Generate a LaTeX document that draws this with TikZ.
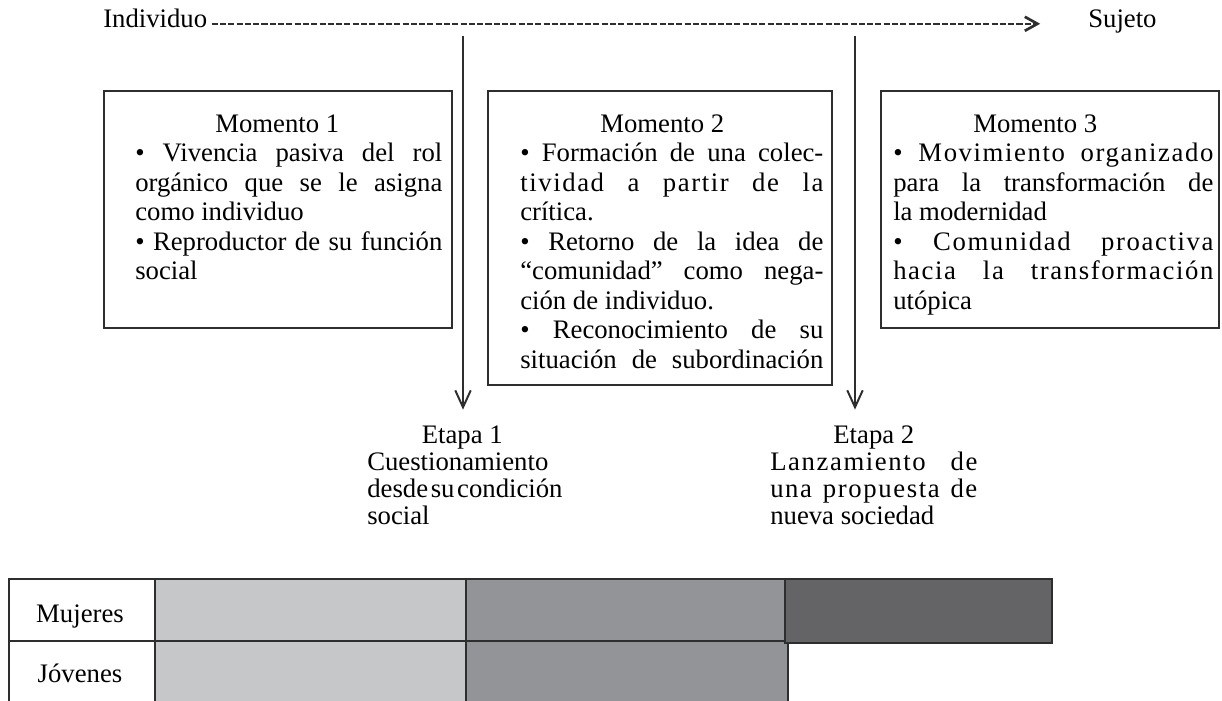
\documentclass[tikz,border=0pt]{standalone}
\usepackage{fontspec}
\setmainfont{Liberation Serif}
\usepackage{xcolor}
\usepackage{tikz}
\usetikzlibrary{arrows.meta,positioning}

\definecolor{grisclaro}{HTML}{C6C7C9}
\definecolor{grismedio}{HTML}{939497}
\definecolor{grisoscuro}{HTML}{646466}
\definecolor{trazo}{HTML}{2E2E2E}

\newcommand{\momtit}[1]{\hspace*{2cm}#1\par}
\newcommand{\linea}[1]{\makebox[\linewidth][s]{\spaceskip=0.25em plus 1em minus 0.15em\relax #1}\par}
\newcommand{\esp}[1]{{\addfontfeature{LetterSpace=6}#1}}
\newcommand{\cajatexto}[2]{\begin{minipage}[t]{#1}\fontsize{19}{21}\selectfont #2\end{minipage}}
\newcommand{\etapatexto}[2]{\begin{minipage}[t]{#1}\fontsize{19}{19.3}\selectfont #2\end{minipage}}

\tikzset{
  caja/.style={draw=trazo, line width=1.7pt},
  texto/.style={anchor=base west, inner sep=0pt},
  etiqueta/.style={anchor=base, inner sep=0pt, font=\fontsize{19}{21}\selectfont},
  flecha/.style={draw=trazo, line width=1.4pt, -{Straight Barb[length=12pt,width=11pt]}},
  celda/.style={draw=trazo, line width=0.9pt},
}

\begin{document}
\begin{tikzpicture}[x=0.025cm,y=-0.025cm]
\useasboundingbox (0,0) rectangle (1222,700);

% Eje individuo - sujeto
\node[etiqueta, anchor=base west] (ind) at (103,27) {Individuo};
\node[etiqueta, anchor=base west] (suj) at (1088,27) {Sujeto};
\draw[trazo, line width=1.3pt, dash pattern=on 4.3pt off 1.6pt, shorten <=3pt, shorten >=34pt,
  -{Straight Barb[length=9pt,width=10pt,line width=1.9pt]}] (ind.mid east) -- (suj.mid west);

% Momentos
\draw[caja] (104,91) rectangle (452,328);
\node[texto] (m1) at (135,132) {\cajatexto{7.675cm}{%
\momtit{Momento 1}
\textbullet\ Vivencia pasiva del rol\linebreak orgánico que se le asigna\linebreak como individuo\par
\linea{\textbullet\ Reproductor de su función}
social\par}};

\draw[caja] (488,91) rectangle (832,385);
\node[texto] (m2) at (520,132) {\cajatexto{7.575cm}{%
\momtit{Momento 2}
\textbullet\ Formación de una colec-\linebreak \esp{tividad a partir de la}\linebreak crítica.\par
\textbullet\ Retorno de la idea de\linebreak “comunidad” como nega-\linebreak ción de individuo.\par
\textbullet\ Reconocimiento de su\linebreak
\linea{situación de subordinación}}};

\draw[caja] (881,91) rectangle (1219,328);
\node[texto] (m3) at (893,132) {\cajatexto{8cm}{%
\momtit{Momento 3}
\esp{\textbullet\ Movimiento organizado}\linebreak para la transformación de\linebreak la modernidad\par
\esp{\textbullet\ Comunidad proactiva}\linebreak \esp{hacia la transformación}\linebreak utópica\par}};

% Etapas
\node[texto] (e1) at (367,443) {\etapatexto{4.75cm}{%
\makebox[\linewidth]{Etapa 1}\par
Cuestionamiento\par
\linea{desde su condición}
social\par}};
\node[texto] (e2) at (770,443) {\etapatexto{5.175cm}{%
\makebox[\linewidth]{Etapa 2}\par
\esp{Lanzamiento de}\linebreak \esp{una propuesta de}\linebreak nueva sociedad\par}};

\coordinate (c1) at (463,36);
\coordinate (c2) at (855,36);
\draw[flecha, shorten >=11pt] (c1) -- (e1.north -| c1);
\draw[flecha, shorten >=11pt] (c2) -- (e2.north -| c2);

% Tabla
\draw[celda] (9,579) rectangle (155,641);
\draw[celda] (9,641) rectangle (155,703);
\draw[celda, fill=grisclaro] (155,579) rectangle (466,641);
\draw[celda, fill=grisclaro] (155,641) rectangle (466,703);
\draw[celda, fill=grismedio] (466,579) rectangle (785,641);
\draw[celda, fill=grismedio] (466,641) rectangle (788,703);
\draw[celda, fill=grisoscuro] (785,579) rectangle (1052,643);
\node[etiqueta] (muj) at (80,622) {Mujeres};
\node[etiqueta] (jov) at (80,682) {Jóvenes};
\end{tikzpicture}
\end{document}
